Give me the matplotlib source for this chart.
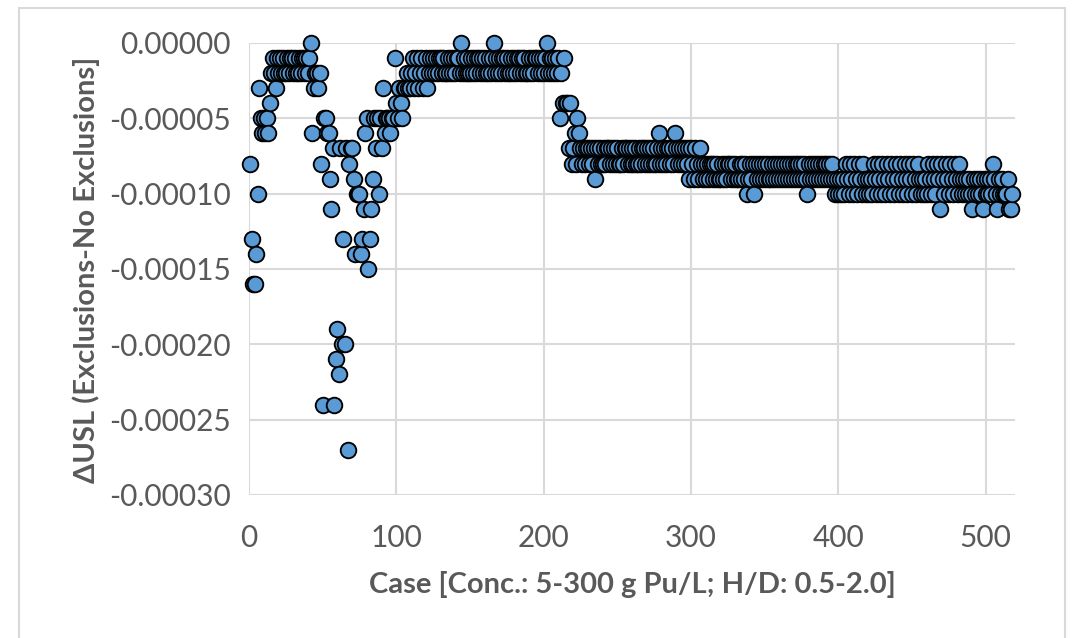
import numpy as np
import matplotlib
matplotlib.use("Agg")
import matplotlib.pyplot as plt
from matplotlib.patches import Rectangle
from matplotlib.ticker import FixedLocator, FuncFormatter

# Delta USL values in units of 1e-5, listed by segment (segment start case -> values)
seg_001 = [-8, -13, -16, -16, -14, -10, -3, -5, -6, -5, -6, -5,
           -6, -4, -2, -1, -2, -3, -1, -2]
seg_021 = [-1, -2, -1, -2, -2, -1, -2, -1, -1, -2, -1, -2, -2, -1, -2, -1,
           -1, -2, -1, -2, -1, 0]
seg_043 = [-6, -3, -2, -2, -3, -2, -8, -24, -5, -5,
           -6, -6, -9, -11, -7, -24, -21, -19, -22, -7,
           -20, -13, -20, -7, -27, -8, -7, -7, -9, -14,
           -10, -10, -10, -14, -13, -11, -6, -5, -15, -13,
           -11, -9, -5, -7, -5, -10, -5, -7, -3, -6,
           -5, -5, -5, -6, -5, -5, -1, -4, -5, -3,
           -4, -5, -3]
seg_106 = [-3, -2, -3, -3, -2, -1, -3, -2, -1, -3, -2, -1, -3, -2, -1, -3,
           -2, -1, -2, -1]
seg_126 = [-2, -1, -2, -1, -1, -2, -1, -2, -2, -1,
           -2, -1, -2, -1, -2, -1, -1, -2, 0, -2,
           -1, -2, -1, -2, -2, -1, -2, -1, -2, -1,
           -1, -2, -1, -2, -1, -2, -2, -1, -2, -1,
           0, -2, -1, -2, -1, -2, -1, -1, -2, -1,
           -2, -2, -1, -2, -1, -2, -1, -1, -2, -1,
           -2, -1, -2, -2, -1, -2, -1, -2, -1, -1,
           -2, -1, -2, -1, -2, -1, 0, -2, -1, -2,
           -1, -2, -1, -2, -1, -5]
seg_212 = [-2, -4, -1, -4, -4, -7, -4, -8, -7, -6, -8, -5, -6, -7]
seg_226 = [-8, -7, -8, -7, -7, -8, -7, -8, -7, -9,
           -7, -8, -7, -8, -8, -7, -8, -7, -7, -8,
           -7, -8, -7, -8, -7, -8, -8, -7, -8, -7,
           -7, -8, -7, -8, -7, -8, -7, -8, -8, -7,
           -8, -7, -7, -8, -7, -8, -7, -8, -7, -8,
           -8, -7, -6, -8, -7, -8, -7, -8, -7, -7,
           -8, -7, -8, -6, -7, -8, -7, -8, -7, -8,
           -7, -8, -7, -9, -7, -8, -9, -7, -8, -9,
           -7, -8]
seg_308 = [-9, -8, -9, -8, -9, -8, -8, -9, -8, -9,
           -8, -9, -9, -8, -9, -8, -9, -8, -8, -9,
           -8, -9, -8, -9, -9, -8, -9, -8, -9, -8,
           -10, -9, -8, -9, -8, -10, -8, -9, -8, -9,
           -8, -9, -8, -9, -8, -9, -9, -8, -9, -8,
           -9, -8, -9, -8, -9, -8, -9, -8, -9, -8,
           -9, -8, -9, -8, -9, -8, -9, -8, -9, -8,
           -9, -10, -8, -9, -8, -9, -8, -9, -8, -9,
           -8, -9, -8, -9, -8, -9, -8, -9, -8, -9]
seg_398 = [-10, -9, -10, -9, -10, -9, -10,
           -8, -9, -10, -8, -9, -10, -8, -9, -10, -8, -9, -10, -8, -9,
           -10, -9, -10, -9, -10,
           -8, -9, -10, -8, -9, -10, -8, -9, -10, -8, -9, -10, -8, -9, -10,
           -8, -9, -10, -8, -9, -10, -8, -9, -10, -8, -9, -10, -8, -9, -10,
           -8, -9, -10,
           -9, -10, -9, -10,
           -8, -9, -10, -8, -9, -10, -8, -9, -11, -8, -9, -10, -8, -9, -10,
           -8, -9, -10, -8, -9, -10, -8, -9, -10]
seg_485 = [-9, -10, -9, -10, -9, -10, -11, -9, -10, -9, -10, -9, -10, -11,
           -9, -10, -9, -10, -9, -10, -8, -9, -10, -11, -9, -10, -9, -10,
           -10, -10, -9, -11, -11, -10]

segments = {1: seg_001, 21: seg_021, 43: seg_043, 106: seg_106, 126: seg_126,
            212: seg_212, 226: seg_226, 308: seg_308, 398: seg_398, 485: seg_485}

cases, dusl = [], []
for start, vals in segments.items():
    for i, v in enumerate(vals):
        cases.append(start + i)
        dusl.append(v * 1e-5)
cases = np.array(cases)
dusl = np.array(dusl)

yticks = [-0.00030, -0.00025, -0.00020, -0.00015, -0.00010, -0.00005, 0.0]
xticks = [0, 100, 200, 300, 400, 500]

W, H = 1079, 638
fig = plt.figure(figsize=(W / 100, H / 100), dpi=100)
fig.patch.set_facecolor("white")

ax_l, ax_r, ax_t, ax_b = 249, 1015, 43, 495
ax = fig.add_axes([ax_l / W, 1 - ax_b / H, (ax_r - ax_l) / W, (ax_b - ax_t) / H])

grid_c = "#D9D9D9"
text_c = "#595959"
font = "Lato"

ax.scatter(cases, dusl, s=126, facecolor="#5B9BD5", edgecolor="black",
           linewidths=1.35, zorder=3, clip_on=False)

ax.set_xlim(0, 520)
ax.set_ylim(-0.0003, 0)
ax.xaxis.set_major_locator(FixedLocator(xticks))
ax.yaxis.set_major_locator(FixedLocator(yticks))
ax.yaxis.set_major_formatter(FuncFormatter(lambda v, p: "0.00000" if abs(v) < 1e-12 else f"{v:.5f}"))
ax.grid(True, color=grid_c, linewidth=1.5, zorder=0)
ax.set_axisbelow(True)
for s in ax.spines.values():
    s.set_visible(False)
ax.tick_params(axis="both", length=0, labelsize=21.5, labelcolor=text_c)
ax.tick_params(axis="y", pad=13)
ax.tick_params(axis="x", pad=21)
for lab in ax.get_xticklabels() + ax.get_yticklabels():
    lab.set_fontfamily(font)

fig.text((ax_l + ax_r) / 2 / W, 1 - 585 / H, "Case [Conc.: 5-300 g Pu/L; H/D: 0.5-2.0]",
         ha="center", va="center", fontsize=21, fontweight="bold", color=text_c,
         family=[font, "DejaVu Sans"])
fig.text(86 / W, 1 - 270 / H, "\u0394USL (Exclusions-No Exclusions]",
         ha="center", va="center", rotation=90, fontsize=21, fontweight="bold",
         color=text_c, family=[font, "DejaVu Sans"])

fig.patches.append(Rectangle((19 / W, -0.02), (1065 - 19) / W, 1.02 - 8 / H,
                             transform=fig.transFigure, fill=False,
                             edgecolor=grid_c, linewidth=1.5))

fig.savefig("out.png", dpi=100)
